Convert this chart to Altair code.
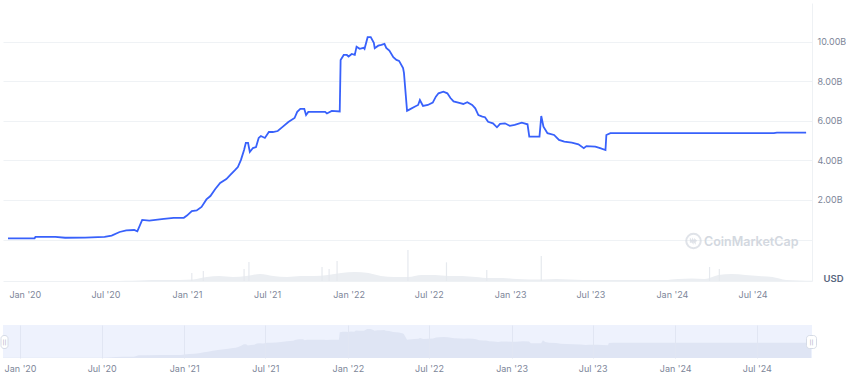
import altair as alt
import pandas as pd

# ---- price (market cap, billions USD) ----
price_dates = [
    "2019-11-24", "2020-01-23", "2020-01-25", "2020-03-10", "2020-04-01", "2020-05-16",
    "2020-06-29", "2020-07-15", "2020-08-02", "2020-08-17", "2020-09-04", "2020-09-11",
    "2020-09-22", "2020-10-08", "2020-11-10", "2020-12-02", "2020-12-25", "2021-01-01",
    "2021-01-12", "2021-01-23", "2021-02-03", "2021-02-14", "2021-02-23", "2021-03-06",
    "2021-03-17", "2021-03-31", "2021-04-09", "2021-04-20", "2021-04-26", "2021-05-03",
    "2021-05-10", "2021-05-14", "2021-05-19", "2021-05-23", "2021-05-30", "2021-06-06",
    "2021-06-12", "2021-06-17", "2021-06-26", "2021-07-05", "2021-07-14", "2021-07-25",
    "2021-08-05", "2021-08-18", "2021-09-01", "2021-09-07", "2021-09-14", "2021-09-23",
    "2021-09-27", "2021-10-02", "2021-11-09", "2021-11-13", "2021-11-24", "2021-12-12",
    "2021-12-14", "2021-12-21", "2021-12-28", "2022-01-01", "2022-01-08", "2022-01-15",
    "2022-01-19", "2022-01-26", "2022-02-04", "2022-02-06", "2022-02-13", "2022-02-20",
    "2022-02-27", "2022-03-01", "2022-03-09", "2022-03-16", "2022-03-23", "2022-03-27",
    "2022-04-03", "2022-04-12", "2022-04-19", "2022-04-25", "2022-05-04", "2022-05-06",
    "2022-05-13", "2022-05-17", "2022-05-29", "2022-06-07", "2022-06-11", "2022-06-18",
    "2022-06-29", "2022-07-10", "2022-07-17", "2022-07-23", "2022-08-03", "2022-08-12",
    "2022-08-19", "2022-08-26", "2022-09-10", "2022-09-17", "2022-09-26", "2022-10-07",
    "2022-10-14", "2022-10-21", "2022-10-30", "2022-11-05", "2022-11-12", "2022-11-23",
    "2022-12-02", "2022-12-09", "2022-12-20", "2022-12-31", "2023-01-11", "2023-01-27",
    "2023-02-09", "2023-02-13", "2023-03-08", "2023-03-12", "2023-03-17", "2023-03-26",
    "2023-04-10", "2023-04-21", "2023-05-03", "2023-05-20", "2023-06-04", "2023-06-16",
    "2023-06-22", "2023-07-12", "2023-07-23", "2023-08-04", "2023-08-06", "2023-08-15",
    "2024-08-18", "2024-08-25", "2024-10-30",
]
price_vals = [
    0.06, 0.06, 0.13, 0.13, 0.09, 0.10,
    0.13, 0.20, 0.38, 0.46, 0.48, 0.41,
    0.99, 0.96, 1.04, 1.09, 1.10, 1.21,
    1.44, 1.47, 1.65, 2.03, 2.20, 2.56,
    2.86, 3.06, 3.27, 3.52, 3.67, 4.03,
    4.53, 4.89, 4.89, 4.43, 4.63, 4.68,
    5.14, 5.24, 5.14, 5.44, 5.44, 5.49,
    5.70, 5.95, 6.15, 6.46, 6.61, 6.61,
    6.30, 6.46, 6.46, 6.38, 6.51, 6.48,
    9.09, 9.34, 9.34, 9.26, 9.39, 9.34,
    9.76, 9.65, 9.70, 9.65, 10.24, 10.24,
    9.95, 9.68, 9.81, 9.85, 9.90, 9.70,
    9.56, 9.23, 9.09, 9.04, 8.68, 8.43,
    6.51, 6.56, 6.71, 6.81, 7.06, 6.76,
    6.81, 6.93, 7.23, 7.40, 7.48, 7.40,
    7.16, 6.99, 6.90, 6.86, 6.95, 6.81,
    6.64, 6.30, 6.22, 6.19, 5.96, 5.88,
    5.68, 5.85, 5.88, 5.75, 5.80, 5.91,
    5.83, 5.21, 5.21, 6.25, 5.71, 5.38,
    5.29, 5.04, 4.95, 4.90, 4.82, 4.62,
    4.73, 4.70, 4.62, 4.53, 5.29, 5.38,
    5.38, 5.41, 5.41,
]

# ---- volume (millions USD), monthly level from Dec 2019 to Oct 2024 ----
vol_base = [
    0, 0, 0, 0, 0, 0, 0, 0, 9, 18, 30, 30, 30, 45,
    120, 150, 120, 150, 210, 150, 120, 150, 150, 180, 240, 270,
    240, 150, 120, 120, 180, 180, 150, 150, 120, 90, 90, 60,
    45, 45, 60, 45, 30, 30, 30, 30, 30, 30, 30, 60,
    75, 60, 180, 210, 180, 150, 120, 30, 15, 9,
]
spike_dates = [
    "2021-01-12", "2021-02-07", "2021-05-10", "2021-05-21", "2021-11-02", "2021-11-18",
    "2021-12-06", "2022-05-15", "2022-08-10", "2022-11-09", "2023-03-12", "2024-03-26",
    "2024-04-17",
]
spike_vals = [240, 300, 360, 570, 420, 360, 600, 930, 560, 330, 750, 420, 360]

tick_dates = [
    "2020-01-01", "2020-07-01", "2021-01-01", "2021-07-01", "2022-01-01",
    "2022-07-01", "2023-01-01", "2023-07-01", "2024-01-01", "2024-07-01",
]
y_ticks = [0, 2, 4, 6, 8, 10]
domain_dates = ["2019-11-24", "2024-11-01"]
watermark = ["CoinMarketCap"]
handle_marks = ["||"]

# ---- tables ----
price_df = pd.DataFrame({"date": price_dates, "price": price_vals})
months = pd.date_range("2019-12-01", periods=len(vol_base), freq="MS") + pd.Timedelta(days=14)
vol_df = pd.DataFrame({"date": months.strftime("%Y-%m-%d"), "vol": vol_base})
spike_df = pd.DataFrame({"date": spike_dates, "vol": spike_vals})
handle_df = pd.DataFrame({"txt": handle_marks})
wm_df = pd.DataFrame({"label": watermark})


def dt(s):
    y, m, d = (int(p) for p in s.split("-"))
    return alt.DateTime(year=y, month=m, date=d, utc=True)


xscale = alt.Scale(type="utc", domain=[dt(d) for d in domain_dates])
tick_vals = [dt(d) for d in tick_dates]
date_label = "utcFormat(datum.value, '%b') + \" '\" + utcFormat(datum.value, '%y')"

LABEL_COLOR = "#7d8699"
FONT = "Inter"
WM_COLOR = "#d3d8e0"

x_main_axis = alt.Axis(
    values=tick_vals, labelExpr=date_label, grid=False, ticks=False,
    domain=True, domainColor="#eef1f4", labelPadding=9, title=None,
)
vol_scale = alt.Scale(domain=[0, 8340], nice=False)

vol_area = alt.Chart(vol_df).mark_area(color="#ebeef2", interpolate="monotone").encode(
    x=alt.X("date:T", scale=xscale, axis=x_main_axis),
    y=alt.Y("vol:Q", scale=vol_scale, axis=None),
)
vol_spikes = alt.Chart(spike_df).mark_bar(color="#e6e9ee", size=1.2).encode(
    x=alt.X("date:T", scale=xscale, axis=x_main_axis),
    y=alt.Y("vol:Q", scale=vol_scale, axis=None),
)

price_line = alt.Chart(price_df).mark_line(color="#3861fb", strokeWidth=1.8).encode(
    x=alt.X("date:T", scale=xscale, axis=x_main_axis),
    y=alt.Y(
        "price:Q",
        scale=alt.Scale(domain=[-2.1, 11.97], nice=False, zero=False),
        axis=alt.Axis(
            orient="right", values=y_ticks,
            labelExpr="datum.value > 0 ? format(datum.value, '.2f') + 'B' : ''",
            grid=True, gridColor="#eff2f5", ticks=False, domain=True, domainColor="#eef1f4",
            labelPadding=5, title="USD", titleAngle=0, titleAlign="left",
            titleBaseline="middle", titleX=11, titleY=275, titleFont=FONT,
            titleFontSize=9.5, titleFontWeight=600, titleColor="#58667e",
        ),
    ),
)

wm_logo = alt.Chart(wm_df).mark_point(
    shape="circle", filled=False, size=210, strokeWidth=2, color=WM_COLOR
).encode(x=alt.value(690.5), y=alt.value(238))
wm_glyph = alt.Chart(wm_df).mark_point(
    shape="M -0.6,0.35 L -0.6,-0.25 L -0.15,0.3 L -0.15,-0.25 L 0.3,0.3 L 0.3,-0.25 L 0.65,0.05",
    filled=False, size=90, strokeWidth=1.6, color=WM_COLOR,
).encode(x=alt.value(690.5), y=alt.value(238))
wm_text = alt.Chart(wm_df).mark_text(
    align="left", baseline="middle", font=FONT, fontSize=12.5, fontWeight=600, color=WM_COLOR
).encode(x=alt.value(701), y=alt.value(238.5), text="label:N")

main = alt.layer(vol_area, vol_spikes, price_line, wm_logo, wm_glyph, wm_text).resolve_scale(
    y="independent"
).properties(width=809, height=278, view=alt.ViewBackground(stroke=None))

# ---- navigator ----
x_nav_axis = alt.Axis(
    values=tick_vals, labelExpr=date_label, grid=True, gridColor="#e1e6f3",
    ticks=False, domain=False, labelPadding=6, title=None, zindex=1,
)
nav_area = alt.Chart(price_df).mark_area(color="#dfe5f4").encode(
    x=alt.X("date:T", scale=xscale, axis=x_nav_axis),
    y=alt.Y("price:Q", scale=alt.Scale(domain=[0, 11.7], nice=False), axis=None),
)
handle_style = dict(cornerRadius=3, fill="white", stroke="#d5dbe6", strokeWidth=1)
h_left = alt.Chart(handle_df).mark_rect(**handle_style).encode(
    x=alt.value(-2), x2=alt.value(5), y=alt.value(10.5), y2=alt.value(23.5)
)
h_right = alt.Chart(handle_df).mark_rect(**handle_style).encode(
    x=alt.value(803.5), x2=alt.value(813.5), y=alt.value(10.5), y2=alt.value(23.5)
)
t_left = alt.Chart(handle_df).mark_text(fontSize=6, color="#a7afbf", font="DejaVu Sans").encode(
    x=alt.value(1.5), y=alt.value(17), text="txt:N"
)
t_right = alt.Chart(handle_df).mark_text(fontSize=6, color="#a7afbf", font="DejaVu Sans").encode(
    x=alt.value(808.5), y=alt.value(17), text="txt:N"
)

nav = alt.layer(nav_area, h_left, h_right, t_left, t_right).properties(
    width=809, height=33, view=alt.ViewBackground(fill="#eef2fd", stroke=None)
)

chart = alt.vconcat(main, nav, spacing=44, bounds="flush").properties(
    padding={"left": 0, "top": 3, "right": 0, "bottom": 0}
).configure_axis(
    labelFont=FONT, labelFontSize=9, labelColor=LABEL_COLOR
).configure_view(stroke=None)

chart.save("out.html", embed_options={"renderer": "svg", "actions": False})
